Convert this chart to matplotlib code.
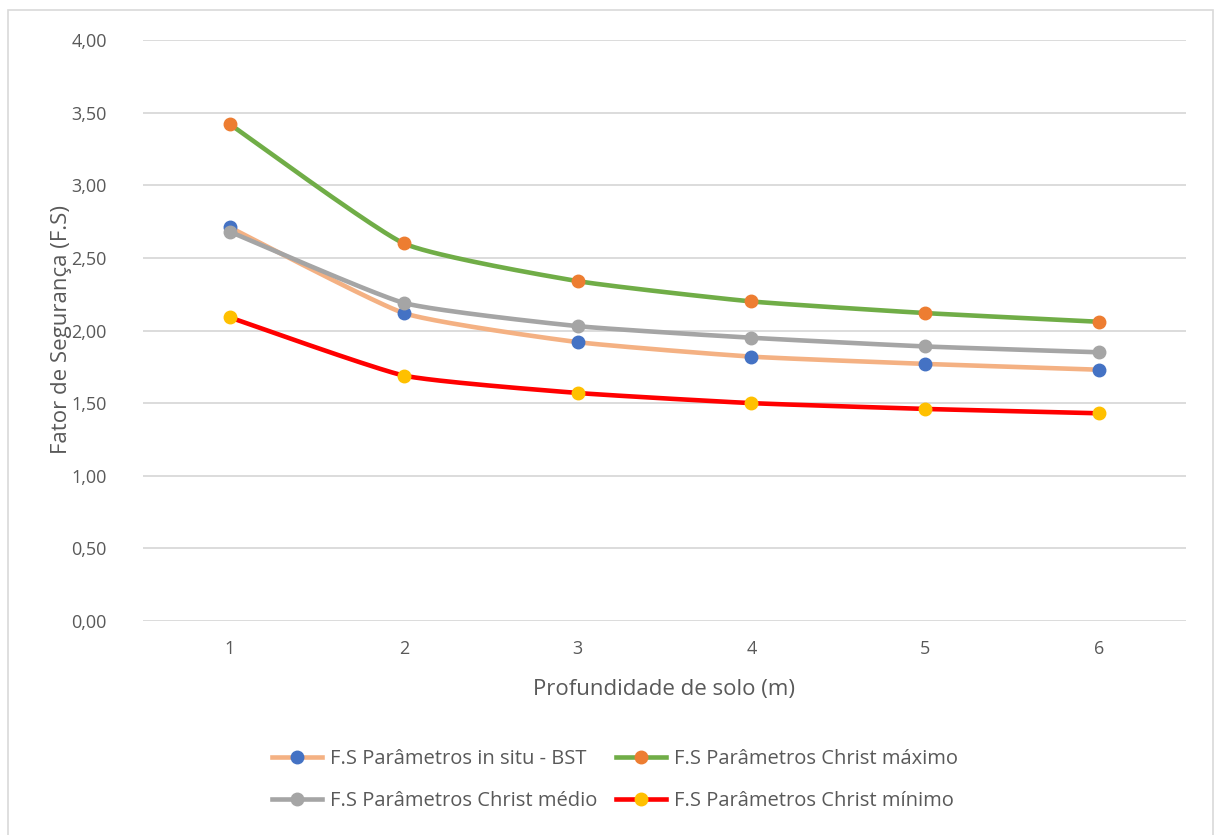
import numpy as np
import matplotlib
matplotlib.use("Agg")
import matplotlib.pyplot as plt
from matplotlib.lines import Line2D
from matplotlib.patches import Rectangle

# Profundidade (m) e fatores de segurança
depths = [1, 2, 3, 4, 5, 6]
fs_in_situ = [2.71, 2.12, 1.92, 1.82, 1.77, 1.73]
fs_christ_max = [3.42, 2.60, 2.34, 2.20, 2.12, 2.06]
fs_christ_med = [2.68, 2.19, 2.03, 1.95, 1.89, 1.85]
fs_christ_min = [2.09, 1.69, 1.57, 1.50, 1.46, 1.43]

y_ticks = [0.0, 0.5, 1.0, 1.5, 2.0, 2.5, 3.0, 3.5, 4.0]
y_tick_labels = ["0,00", "0,50", "1,00", "1,50", "2,00", "2,50", "3,00", "3,50", "4,00"]

series = [
    ("F.S Parâmetros in situ - BST", fs_in_situ, "#F4B183", "#4472C4"),
    ("F.S Parâmetros Christ máximo", fs_christ_max, "#70AD47", "#ED7D31"),
    ("F.S Parâmetros Christ médio", fs_christ_med, "#A5A5A5", "#A5A5A5"),
    ("F.S Parâmetros Christ mínimo", fs_christ_min, "#FF0000", "#FFC000"),
]

plt.rcParams["font.family"] = ["Open Sans", "DejaVu Sans"]
TXT = "#595959"


def smooth_curve(xs, ys, k=0.08, n=40):
    """Gentle cubic Bezier smoothing through every point."""
    xs = np.asarray(xs, float)
    ys = np.asarray(ys, float)
    px, py = [], []
    m = len(xs)
    for i in range(m - 1):
        x0, y0 = xs[max(i - 1, 0)], ys[max(i - 1, 0)]
        x1, y1 = xs[i], ys[i]
        x2, y2 = xs[i + 1], ys[i + 1]
        x3, y3 = xs[min(i + 2, m - 1)], ys[min(i + 2, m - 1)]
        c1x, c1y = x1 + (x2 - x0) * k, y1 + (y2 - y0) * k
        c2x, c2y = x2 - (x3 - x1) * k, y2 - (y3 - y1) * k
        t = np.linspace(0, 1, n)
        b0, b1, b2, b3 = (1 - t) ** 3, 3 * t * (1 - t) ** 2, 3 * t ** 2 * (1 - t), t ** 3
        px.append(b0 * x1 + b1 * c1x + b2 * c2x + b3 * x2)
        py.append(b0 * y1 + b1 * c1y + b2 * c2y + b3 * y2)
    return np.concatenate(px), np.concatenate(py)


fig = plt.figure(figsize=(12.14, 8.35), dpi=100)
fig.patch.set_facecolor("white")

# chart frame
fig.add_artist(Rectangle((8 / 1214, -0.01), (1213 - 8) / 1214, 1 - 10 / 835 + 0.01,
                         transform=fig.transFigure, fill=False,
                         edgecolor="#D9D9D9", linewidth=1.2))

ax = fig.add_axes([143 / 1214, 1 - 621 / 835, (1186 - 143) / 1214, (621 - 40) / 835])
ax.set_xlim(0.5, 6.5)
ax.set_ylim(0, 4.0)

handles = {}
for label, vals, lc, mc in series:
    sx, sy = smooth_curve(depths, vals)
    ax.plot(sx, sy, color=lc, linewidth=3.3, solid_capstyle="round", zorder=3)
    ax.plot(depths, vals, linestyle="none", marker="o", markersize=9,
            markerfacecolor=mc, markeredgecolor=mc, zorder=4)
    handles[label] = Line2D([], [], color=lc, linewidth=3.3, marker="o", markersize=9,
                            markerfacecolor=mc, markeredgecolor=mc, label=label)

ax.set_yticks(y_ticks)
ax.set_yticklabels(y_tick_labels)
ax.set_xticks(depths)
ax.set_xticklabels([str(d) for d in depths])
ax.grid(axis="y", color="#D9D9D9", linewidth=1.3)
ax.set_axisbelow(True)
for s in ax.spines.values():
    s.set_visible(False)
ax.tick_params(axis="both", length=0, labelsize=13, colors=TXT)
ax.tick_params(axis="y", pad=26)
ax.tick_params(axis="x", pad=14)

fig.text(62 / 1214, 1 - 330 / 835, "Fator de Segurança (F.S)", rotation=90,
         ha="center", va="center", fontsize=16, color=TXT)
fig.text(664 / 1214, 1 - 690 / 835, "Profundidade de solo (m)",
         ha="center", va="center", fontsize=16, color=TXT)

# legend filled column by column: first column holds entries 1 and 3
order = [series[0][0], series[2][0], series[1][0], series[3][0]]
fig.legend(handles=[handles[k] for k in order], loc="center",
           bbox_to_anchor=(615 / 1214, 1 - 780 / 835),
           ncol=2, frameon=False, fontsize=14.5, labelcolor=TXT, handlelength=2.5,
           handletextpad=0.4, columnspacing=0.9, labelspacing=1.05)

fig.savefig("out.png", dpi=100, facecolor="white")
